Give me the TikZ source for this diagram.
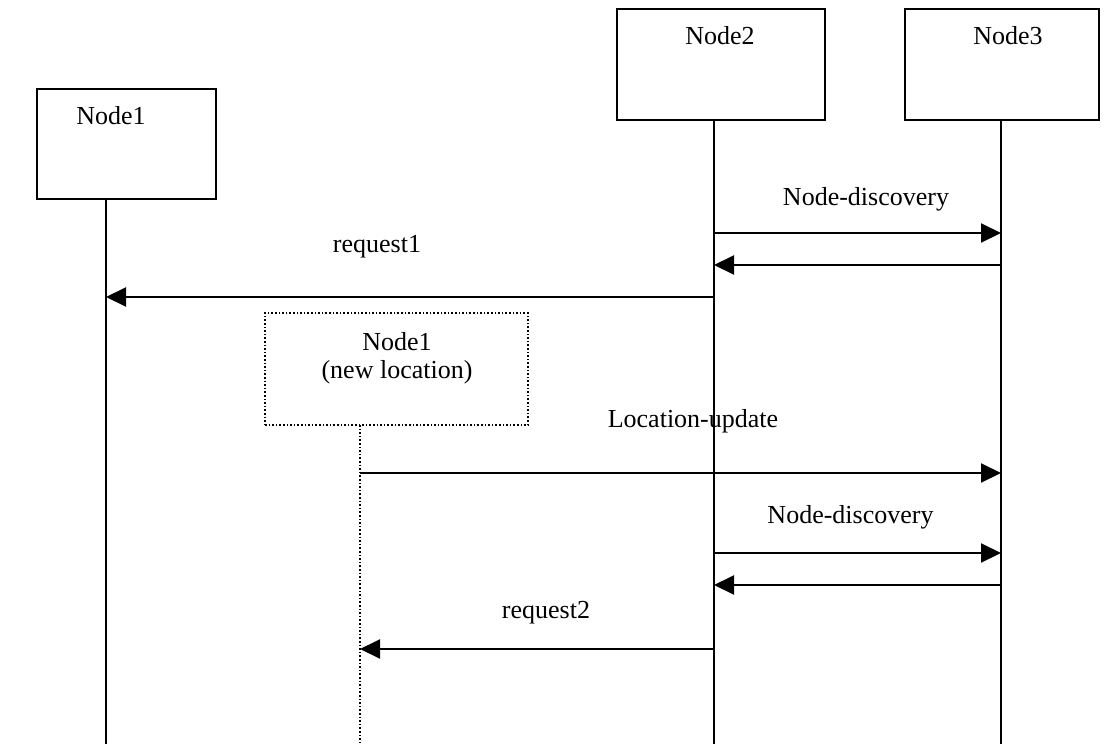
\documentclass[tikz,border=0pt]{standalone}
\usepackage{fontspec}
\setmainfont{Liberation Serif}
\usetikzlibrary{arrows.meta}
\tikzset{
  box/.style={draw, line width=2pt, rectangle, inner sep=0pt},
  ghostbox/.style={draw, line width=1.6pt, dotted, rectangle, inner sep=0pt},
  lbl/.style={anchor=base, inner sep=0pt, font=\fontsize{26}{31}\selectfont},
  life/.style={line width=2pt},
  ghostlife/.style={line width=1.6pt, dotted},
  msg/.style={line width=2pt, -{Triangle[length=20pt,width=19pt]}},
}
\begin{document}
\begin{tikzpicture}[x=1pt,y=-1pt]
\useasboundingbox (0,0) rectangle (1104,744);

% participant boxes
\node[box, minimum width=179pt, minimum height=110pt] (n1) at (126.5,144) {};
\node[box, minimum width=208pt, minimum height=111pt] (n2) at (721,64.5) {};
\node[box, minimum width=194pt, minimum height=111pt] (n3) at (1002,64.5) {};
\node[ghostbox, minimum width=263pt, minimum height=112pt] (n1b) at (396.5,369) {};

\node[lbl] (t1) at (111,124) {Node1};
\node[lbl] (t2) at (720,44) {Node2};
\node[lbl] (t3) at (1008,44) {Node3};
\node[lbl] (t1b) at (397,350) {Node1};
\node[lbl] (t1c) at (397,378) {(new location)};

% lifeline ends
\coordinate (e1) at (106,744);
\coordinate (e2) at (714,744);
\coordinate (e3) at (1001,744);
\coordinate (e1b) at (360,744);
\coordinate (s1) at (106,199);
\coordinate (s2) at (714,120);
\coordinate (s3) at (1001,120);
\coordinate (s1b) at (360,425);

\draw[life] (s1) -- (e1);
\draw[life] (s2) -- (e2);
\draw[life] (s3) -- (e3);
\draw[ghostlife] (s1b) -- (e1b);

% message points on the lifelines
\coordinate (a2) at (714,233);   \coordinate (a3) at (1001,233);
\coordinate (b3) at (1001,265);  \coordinate (b2) at (714,265);
\coordinate (c2) at (714,297);   \coordinate (c1) at (106,297);
\coordinate (d1) at (360,473);   \coordinate (d3) at (1001,473);
\coordinate (f2) at (714,553);   \coordinate (f3) at (1001,553);
\coordinate (g3) at (1001,585);  \coordinate (g2) at (714,585);
\coordinate (h2) at (714,649);   \coordinate (h1) at (360,649);

\draw[msg] (a2) -- (a3);
\draw[msg] (b3) -- (b2);
\draw[msg] (c2) -- (c1);
\draw[msg] (d1) -- (d3);
\draw[msg] (f2) -- (f3);
\draw[msg] (g3) -- (g2);
\draw[msg] (h2) -- (h1);

% message labels
\node[lbl] (m1) at (866,205) {Node-discovery};
\node[lbl] (m2) at (377,252) {request1};
\node[lbl] (m3) at (693,427) {Location-update};
\node[lbl] (m4) at (850.5,523) {Node-discovery};
\node[lbl] (m5) at (546,618) {request2};
\end{tikzpicture}
\end{document}
